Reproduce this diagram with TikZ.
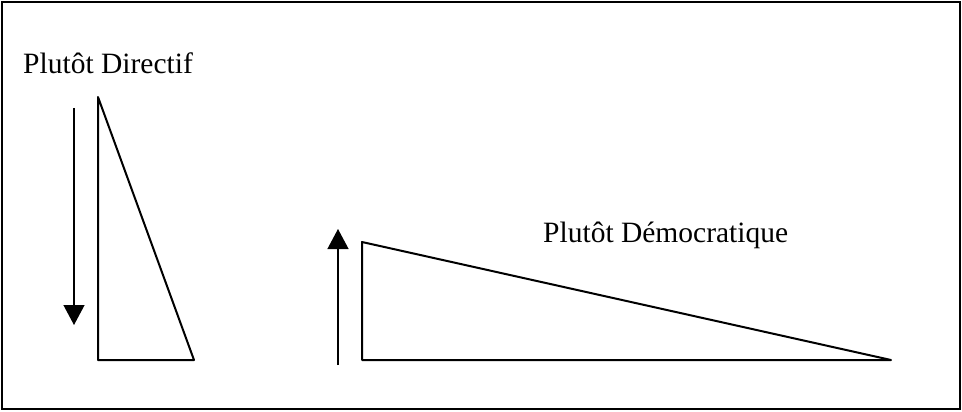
\documentclass[tikz,border=0pt]{standalone}
\usepackage{fontspec}
\setmainfont{Liberation Serif}
\usetikzlibrary{arrows.meta}
\begin{document}
\begin{tikzpicture}[x=1pt,y=-1pt,
  tri/.style={draw=black,line width=2pt,line join=round},
  arr/.style={draw=black,line width=1.3pt,-{Triangle[width=21pt,length=20pt]}},
  lbl/.style={font=\fontsize{29.5}{34}\selectfont,inner sep=0pt,anchor=base west}]
\useasboundingbox (0,0) rectangle (962,412);
\draw[line width=1.8pt] (2,2) rectangle (960,409);
\node[lbl] (t1) at (23,74) {Plutôt Directif};
\node[lbl] (t2) at (543,242) {Plutôt Démocratique};
\coordinate (a1s) at (74,108);
\coordinate (a1e) at (74,325);
\draw[arr] (a1s) -- (a1e);
\coordinate (a2s) at (338,365);
\coordinate (a2e) at (338,229);
\draw[arr] (a2s) -- (a2e);
\coordinate (p1) at (98,97);
\coordinate (p2) at (98,360);
\coordinate (p3) at (194,360);
\draw[tri] (p1) -- (p2) -- (p3) -- cycle;
\coordinate (q1) at (362,242);
\coordinate (q2) at (362,360);
\coordinate (q3) at (891,360);
\draw[tri] (q1) -- (q2) -- (q3) -- cycle;
\end{tikzpicture}
\end{document}
